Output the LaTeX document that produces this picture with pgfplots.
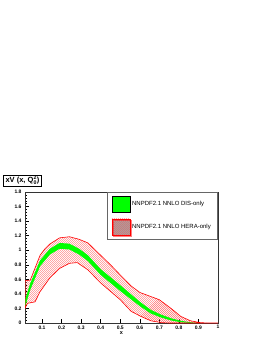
\documentclass[border=0pt]{standalone}
\usepackage{fontspec}
\setmainfont{Liberation Sans}
\usepackage{pgfplots}
\pgfplotsset{compat=1.18}
\usetikzlibrary{patterns,shadows}
\pgfdeclarepatternformonly{finehatch}{\pgfqpoint{-1pt}{-1pt}}{\pgfqpoint{3pt}{3pt}}{\pgfqpoint{2pt}{2pt}}{%
  \pgfsetlinewidth{0.35pt}%
  \pgfpathmoveto{\pgfqpoint{0pt}{0pt}}%
  \pgfpathlineto{\pgfqpoint{2.1pt}{2.1pt}}%
  \pgfusepath{stroke}}
\begin{document}
\begin{tikzpicture}
\path[use as bounding box] (0,0) rectangle (262pt,339pt);
\begin{axis}[
  at={(25pt,16pt)}, anchor=south west,
  scale only axis, width=193pt, height=131pt,
  xmin=0.013, xmax=1, ymin=0, ymax=1.8,
  xtick={0.1,0.2,...,0.9,1}, ytick={0,0.2,...,1.8},
  xticklabels={0.1,0.2,0.3,0.4,0.5,0.6,0.7,0.8,0.9,1},
  yticklabels={0,0.2,0.4,0.6,0.8,1,1.2,1.4,1.6,1.8},
  minor tick num=4,
  tick pos=left, tick align=inside,
  major tick length=4pt, minor tick length=2pt,
  tick style={black, line width=0.4pt},
  axis line style={black!80, line width=0.5pt},
  ticklabel style={font=\fontsize{5}{6}\selectfont\bfseries},
  xticklabel style={yshift=1pt},
  /pgf/number format/assume math mode=true,
  xlabel={x}, xlabel style={font=\fontsize{5.5}{6}\selectfont\bfseries, at={(axis description cs:0.5,0)}, anchor=center, yshift=-10pt},
  legend cell align=left,
  legend style={at={(0.995,1)}, anchor=north east, draw=black!60, fill=white,
    font=\fontsize{6}{7}\selectfont, row sep=6pt, inner xsep=4pt, inner ysep=4pt,
    drop shadow={shadow xshift=1pt, shadow yshift=-1pt, fill=black!70}},
  legend image code/.code={\draw[#1] (0pt,-8pt) rectangle (18pt,8pt);},
]
\addlegendimage{fill=green, draw=none}
\addlegendentry{NNPDF2.1 NNLO DIS-only}
\addlegendimage{pattern=finehatch, pattern color=red!70, draw=red, line width=0.6pt}
\addlegendentry{NNPDF2.1 NNLO HERA-only}
% HERA-only band (hatched)
\addplot[forget plot, draw=none, pattern=finehatch, pattern color=red!70] coordinates {
(0.013,0.58) (0.04,0.59) (0.065,0.76) (0.09,0.93) (0.115,1.02) (0.14,1.085) (0.19,1.17) (0.24,1.185) (0.29,1.15) (0.335,1.1) (0.4,0.93) (0.45,0.80) (0.5,0.66) (0.555,0.51) (0.6,0.42) (0.65,0.37) (0.7,0.32) (0.76,0.2) (0.81,0.09) (0.86,0.03) (0.91,0.005) (0.95,0) (1.0,0)
(1.0,0) (0.75,0) (0.71,0.005) (0.657,0.03) (0.606,0.09) (0.556,0.16) (0.5,0.32) (0.45,0.435) (0.4,0.55) (0.335,0.73) (0.28,0.83) (0.24,0.82) (0.19,0.75) (0.14,0.62) (0.09,0.43) (0.064,0.29) (0.025,0.27) (0.013,0.2)
} -- cycle;
% DIS-only band (green)
\addplot[forget plot, draw=none, fill=green] coordinates {
(0.013,0.32) (0.04,0.545) (0.09,0.86) (0.14,1.02) (0.19,1.10) (0.24,1.09) (0.29,1.02) (0.335,0.93) (0.4,0.74) (0.45,0.63) (0.5,0.52) (0.555,0.395) (0.606,0.28) (0.657,0.18) (0.709,0.115) (0.76,0.065) (0.81,0.03) (0.86,0.01) (0.9,0)
(0.86,0) (0.81,0.01) (0.76,0.035) (0.709,0.075) (0.657,0.13) (0.606,0.22) (0.555,0.325) (0.5,0.44) (0.45,0.55) (0.4,0.66) (0.335,0.85) (0.29,0.94) (0.24,1.01) (0.19,1.02) (0.14,0.94) (0.09,0.78) (0.04,0.455) (0.013,0.22)
} -- cycle;
% HERA-only band outline
\addplot[forget plot, red, line width=0.6pt] coordinates {
(0.013,0.58) (0.04,0.59) (0.065,0.76) (0.09,0.93) (0.115,1.02) (0.14,1.085) (0.19,1.17) (0.24,1.185) (0.29,1.15) (0.335,1.1) (0.4,0.93) (0.45,0.80) (0.5,0.66) (0.555,0.51) (0.6,0.42) (0.65,0.37) (0.7,0.32) (0.76,0.2) (0.81,0.09) (0.86,0.03) (0.91,0.005) (0.95,0) (1.0,0)
(1.0,0) (0.75,0) (0.71,0.005) (0.657,0.03) (0.606,0.09) (0.556,0.16) (0.5,0.32) (0.45,0.435) (0.4,0.55) (0.335,0.73) (0.28,0.83) (0.24,0.82) (0.19,0.75) (0.14,0.62) (0.09,0.43) (0.064,0.29) (0.025,0.27) (0.013,0.2)
} -- cycle;
\end{axis}
\node[draw=black, fill=white, inner xsep=2pt, inner ysep=1.2pt, font=\fontsize{7.5}{8}\selectfont\bfseries,
  drop shadow={shadow xshift=1pt, shadow yshift=-1pt, fill=black!70}] at (22.5pt,158.5pt) {xV (x, Q$^{\mathbf{2}}_{\mathbf{0}}$)};
\end{tikzpicture}
\end{document}
